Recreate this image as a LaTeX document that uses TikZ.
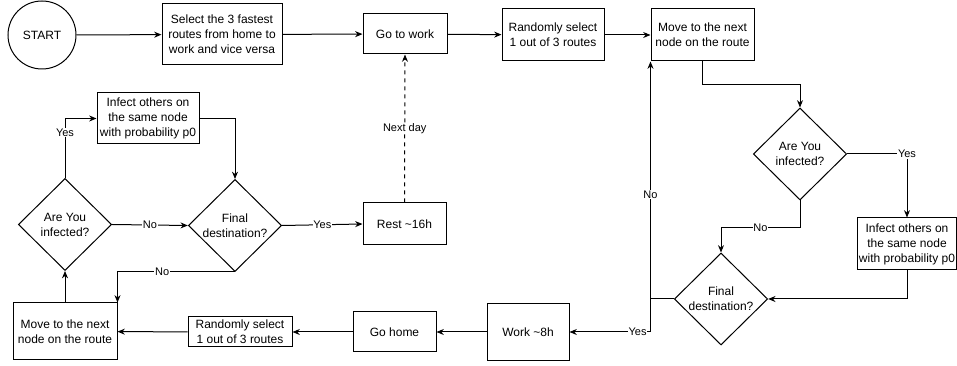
\documentclass[tikz,border=0pt]{standalone}
\usepackage{fontspec}
\setmainfont{Liberation Sans}
\usetikzlibrary{arrows.meta,positioning,shapes.geometric,calc}

\begin{document}
\begin{tikzpicture}[
    x=0.75pt, y=-0.75pt,
    >={Stealth[length=5.5pt,width=4.5pt]},
    line width=0.75pt,
    font=\fontsize{9pt}{11.25pt}\selectfont,
    stepbox/.style={
        rectangle,
        draw=black,
        fill=white,
        inner sep=1pt,
        align=center
    },
    decision/.style={
        diamond,
        draw=black,
        fill=white,
        minimum width=70pt,
        minimum height=69pt,
        inner sep=0pt
    },
    dtext/.style={align=center, inner sep=0pt},
    edge label/.style={
        font=\fontsize{8.25pt}{10pt}\selectfont,
        fill=white,
        inner sep=0.5pt
    }
]

\useasboundingbox (0,0) rectangle (957,366);

% Top row: way to work
\node[circle,draw=black,minimum size=51pt,inner sep=0pt] (start) at (42,35) {START};
\node[stepbox, minimum width=90pt,   minimum height=45.75pt] (select)  at (222,34.5) {Select the 3 fastest\\routes from home to\\work and vice versa};
\node[stepbox, minimum width=63pt,   minimum height=30pt]    (gowork)  at (405,34)   {Go to work};
\node[stepbox, minimum width=76.5pt, minimum height=39pt]    (randw)   at (553,35)   {Randomly select\\1 out of 3 routes};
\node[stepbox, minimum width=77.25pt,minimum height=39pt]    (movew)   at (702.5,35) {Move to the next\\node on the route};
\draw[->] (start) -- (select);
\draw[->] (select) -- (gowork);
\draw[->] (gowork) -- (randw);
\draw[->] (randw) -- (movew);

% Right loop (on the way to work)
\node[decision, label={[dtext]center:Are You\\infected?}]     (infw)   at (800,154) {};
\node[stepbox, minimum width=73.5pt, minimum height=39pt] (spreadw) at (907,244) {Infect others on\\the same node\\with probability p0};
\node[decision, label={[dtext]center:Final\\destination?}]   (finw)   at (721,299) {};
\node[stepbox, minimum width=61.5pt, minimum height=42.75pt] (work) at (528,332) {Work \textasciitilde8h};
\draw[->] (movew.south) -- ++(0,23) -| (infw.north);
\draw[->] (infw.east) -| node[pos=0.5,edge label]{Yes} (spreadw.north);
\draw[->] (infw.south) -- ++(0,27) -| node[pos=0.25,edge label]{No} (finw.north);
\draw[->] (spreadw.south) |- (finw.east);
\draw[->] (finw.west) -| node[pos=0.72,edge label]{No} (movew.south west);
\draw[->] (finw.west) -- (finw.west -| movew.west) |- node[pos=0.58,edge label]{Yes} (work.east);

% Bottom row: way home
\node[stepbox, minimum width=62.25pt, minimum height=30pt]    (gohome) at (394.5,332) {Go home};
\node[stepbox, minimum width=78pt,    minimum height=22.5pt]  (randh)  at (240,332)   {Randomly select\\1 out of 3 routes};
\node[stepbox, minimum width=78pt,    minimum height=42.75pt] (moveh)  at (65,331.5)  {Move to the next\\node on the route};
\draw[->] (work) -- (gohome);
\draw[->] (gohome) -- (randh);
\draw[->] (randh) -- (moveh);

% Left loop (on the way home)
\node[decision, label={[dtext]center:Are You\\infected?}]     (infh)   at (65,224.5) {};
\node[stepbox, minimum width=76.5pt, minimum height=38.25pt] (spreadh) at (148,118.5) {Infect others on\\the same node\\with probability p0};
\node[decision, label={[dtext]center:Final\\destination?}]   (finh)   at (235,225.5) {};
\node[stepbox, minimum width=62.25pt, minimum height=31.5pt] (rest) at (404.5,224) {Rest \textasciitilde16h};
\draw[->] (moveh.north) -- (infh.south);
\draw[->] (infh.north) |- node[pos=0.38,edge label]{Yes} (spreadh.west);
\draw[->] (spreadh.east) -| (finh.north);
\draw[->] (infh.east) -- node[edge label]{No} (finh.west);
\draw[->] (finh.east) -- node[edge label]{Yes} (rest.west);
\draw[->] (finh.south) -| node[pos=0.31,edge label]{No} (moveh.north east);

% Next day
\draw[->,dashed] (rest.north) -- node[edge label]{Next day} (gowork.south);

\end{tikzpicture}
\end{document}
